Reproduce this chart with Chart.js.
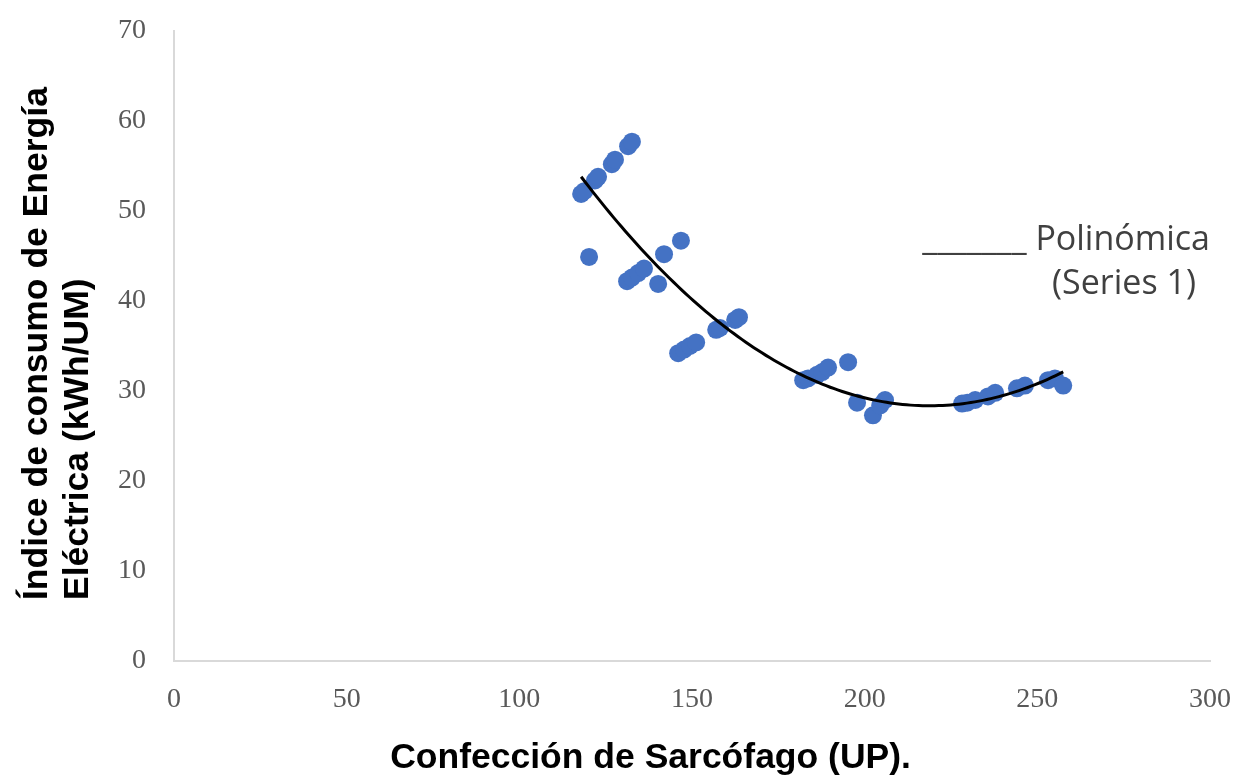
<!DOCTYPE html>
<html>
<head>
<meta charset="utf-8">
<style>
  html, body { margin: 0; padding: 0; background: #ffffff; }
  #wrap { width: 1239px; height: 776px; position: relative; }
</style>
<script src="https://cdn.jsdelivr.net/npm/chart.js@4.4.1/dist/chart.umd.min.js"></script>
</head>
<body>
<div id="wrap"><canvas id="chart" width="1239" height="776"></canvas></div>
<script>
// Production (UP) of sarcophagi vs. electricity consumption index (kWh/UM)
const produccion = [
  117.9, 118.8, 121.9, 122.8, 126.8, 127.7, 131.5, 132.6, 120.2,
  131.2, 132.6, 134.4, 136.1, 140.2, 141.9, 146.8,
  146.0, 147.7, 149.4, 151.2, 157.0, 158.1, 162.5, 163.6,
  182.2, 183.6, 186.2, 187.7, 189.4, 195.2, 197.8, 202.4, 204.5, 205.9,
  228.2, 229.7, 232.0, 235.7, 237.8, 244.1, 246.4, 253.1, 255.1, 257.5
];
const indiceConsumo = [
  51.9, 52.2, 53.4, 53.8, 55.2, 55.7, 57.2, 57.7, 44.9,
  42.2, 42.6, 43.1, 43.6, 41.9, 45.2, 46.7,
  34.2, 34.6, 35.0, 35.4, 36.8, 37.0, 37.9, 38.2,
  31.2, 31.4, 31.8, 32.1, 32.6, 33.2, 28.7, 27.3, 28.4, 29.0,
  28.6, 28.7, 29.0, 29.4, 29.8, 30.3, 30.6, 31.2, 31.4, 30.6
];
const xTicks = [0, 50, 100, 150, 200, 250, 300];
const yTicks = [0, 10, 20, 30, 40, 50, 60, 70];

const xTitle = 'Confección de Sarcófago (UP).';
const yTitleLines = ['Índice de consumo de Energía', 'Eléctrica (kWh/UM)'];
const trendLabel = ['_______ Polinómica', '(Series 1)'];

// Second-order least-squares fit (polynomial trendline)
function polyFit2(xs, ys) {
  let s0 = xs.length, s1 = 0, s2 = 0, s3 = 0, s4 = 0, t0 = 0, t1 = 0, t2 = 0;
  for (let i = 0; i < xs.length; i++) {
    const x = xs[i], y = ys[i], x2 = x * x;
    s1 += x; s2 += x2; s3 += x2 * x; s4 += x2 * x2;
    t0 += y; t1 += x * y; t2 += x2 * y;
  }
  const M = [[s0, s1, s2, t0], [s1, s2, s3, t1], [s2, s3, s4, t2]];
  for (let c = 0; c < 3; c++) {
    for (let r = c + 1; r < 3; r++) {
      const f = M[r][c] / M[c][c];
      for (let k = c; k < 4; k++) M[r][k] -= f * M[c][k];
    }
  }
  const b = [0, 0, 0];
  for (let r = 2; r >= 0; r--) {
    let s = M[r][3];
    for (let k = r + 1; k < 3; k++) s -= M[r][k] * b[k];
    b[r] = s / M[r][r];
  }
  return b;
}

const coef = polyFit2(produccion, indiceConsumo);
const xMin = Math.min(...produccion), xMax = Math.max(...produccion);
const trendPoints = [];
for (let x = xMin; x <= xMax + 1e-9; x += (xMax - xMin) / 120) {
  trendPoints.push({ x: x, y: coef[0] + coef[1] * x + coef[2] * x * x });
}

const scatterPoints = produccion.map((x, i) => ({ x: x, y: indiceConsumo[i] }));

const TICK_FONT = { family: '"Liberation Serif", "DejaVu Serif", serif', size: 28 };
const TICK_COLOR = '#595959';
const AXIS_COLOR = '#d9d9d9';

// Axis titles and trendline caption
const annotations = {
  id: 'annotations',
  afterDraw(chart) {
    const ctx = chart.ctx;
    const area = chart.chartArea;
    ctx.save();
    ctx.fillStyle = '#000000';
    ctx.font = 'bold 35.5px "Liberation Sans", Arial, sans-serif';
    ctx.textAlign = 'center';
    ctx.textBaseline = 'alphabetic';
    ctx.fillText(xTitle, area.left + (area.right - area.left) * 0.46, 768);

    ctx.translate(0, 600);
    ctx.rotate(-Math.PI / 2);
    ctx.textAlign = 'left';
    ctx.fillText(yTitleLines[0], 0, 47);
    ctx.fillText(yTitleLines[1], 0, 88);
    ctx.restore();

    ctx.save();
    ctx.fillStyle = '#404040';
    ctx.font = '34px "Open Sans", "Liberation Sans", sans-serif';
    ctx.textBaseline = 'alphabetic';
    ctx.textAlign = 'right';
    ctx.fillText(trendLabel[0], 1210, 250);
    ctx.textAlign = 'center';
    ctx.fillText(trendLabel[1], 1124, 294);
    ctx.restore();
  }
};

new Chart(document.getElementById('chart'), {
  type: 'scatter',
  data: {
    datasets: [
      {
        type: 'line',
        label: 'Polinómica (Series 1)',
        data: trendPoints,
        borderColor: '#000000',
        borderWidth: 3,
        pointRadius: 0,
        tension: 0,
        fill: false,
        order: 0
      },
      {
        label: 'Series 1',
        data: scatterPoints,
        backgroundColor: '#4472C4',
        borderColor: '#4472C4',
        borderWidth: 0,
        pointRadius: 9,
        order: 1
      }
    ]
  },
  options: {
    responsive: false,
    animation: false,
    devicePixelRatio: 1,
    layout: { padding: { left: 0, top: 31, right: 29, bottom: 0 } },
    plugins: {
      legend: { display: false },
      tooltip: { enabled: false }
    },
    scales: {
      x: {
        type: 'linear',
        min: 0,
        max: 300,
        afterBuildTicks(scale) { scale.ticks = xTicks.map(v => ({ value: v })); },
        afterFit(scale) {
          scale.height = 115;
          scale.paddingLeft = 0;
          scale.paddingRight = 0;
        },
        grid: { display: false, drawTicks: false },
        border: { display: true, color: AXIS_COLOR, width: 2 },
        ticks: { font: TICK_FONT, color: TICK_COLOR, padding: 22, maxRotation: 0 }
      },
      y: {
        type: 'linear',
        min: 0,
        max: 70,
        afterBuildTicks(scale) { scale.ticks = yTicks.map(v => ({ value: v })); },
        afterFit(scale) {
          scale.width = 174;
          scale.paddingTop = 0;
          scale.paddingBottom = 0;
        },
        grid: { display: false, drawTicks: false },
        border: { display: true, color: AXIS_COLOR, width: 2 },
        ticks: { font: TICK_FONT, color: TICK_COLOR, padding: 28 }
      }
    }
  },
  plugins: [annotations]
});
</script>
</body>
</html>
